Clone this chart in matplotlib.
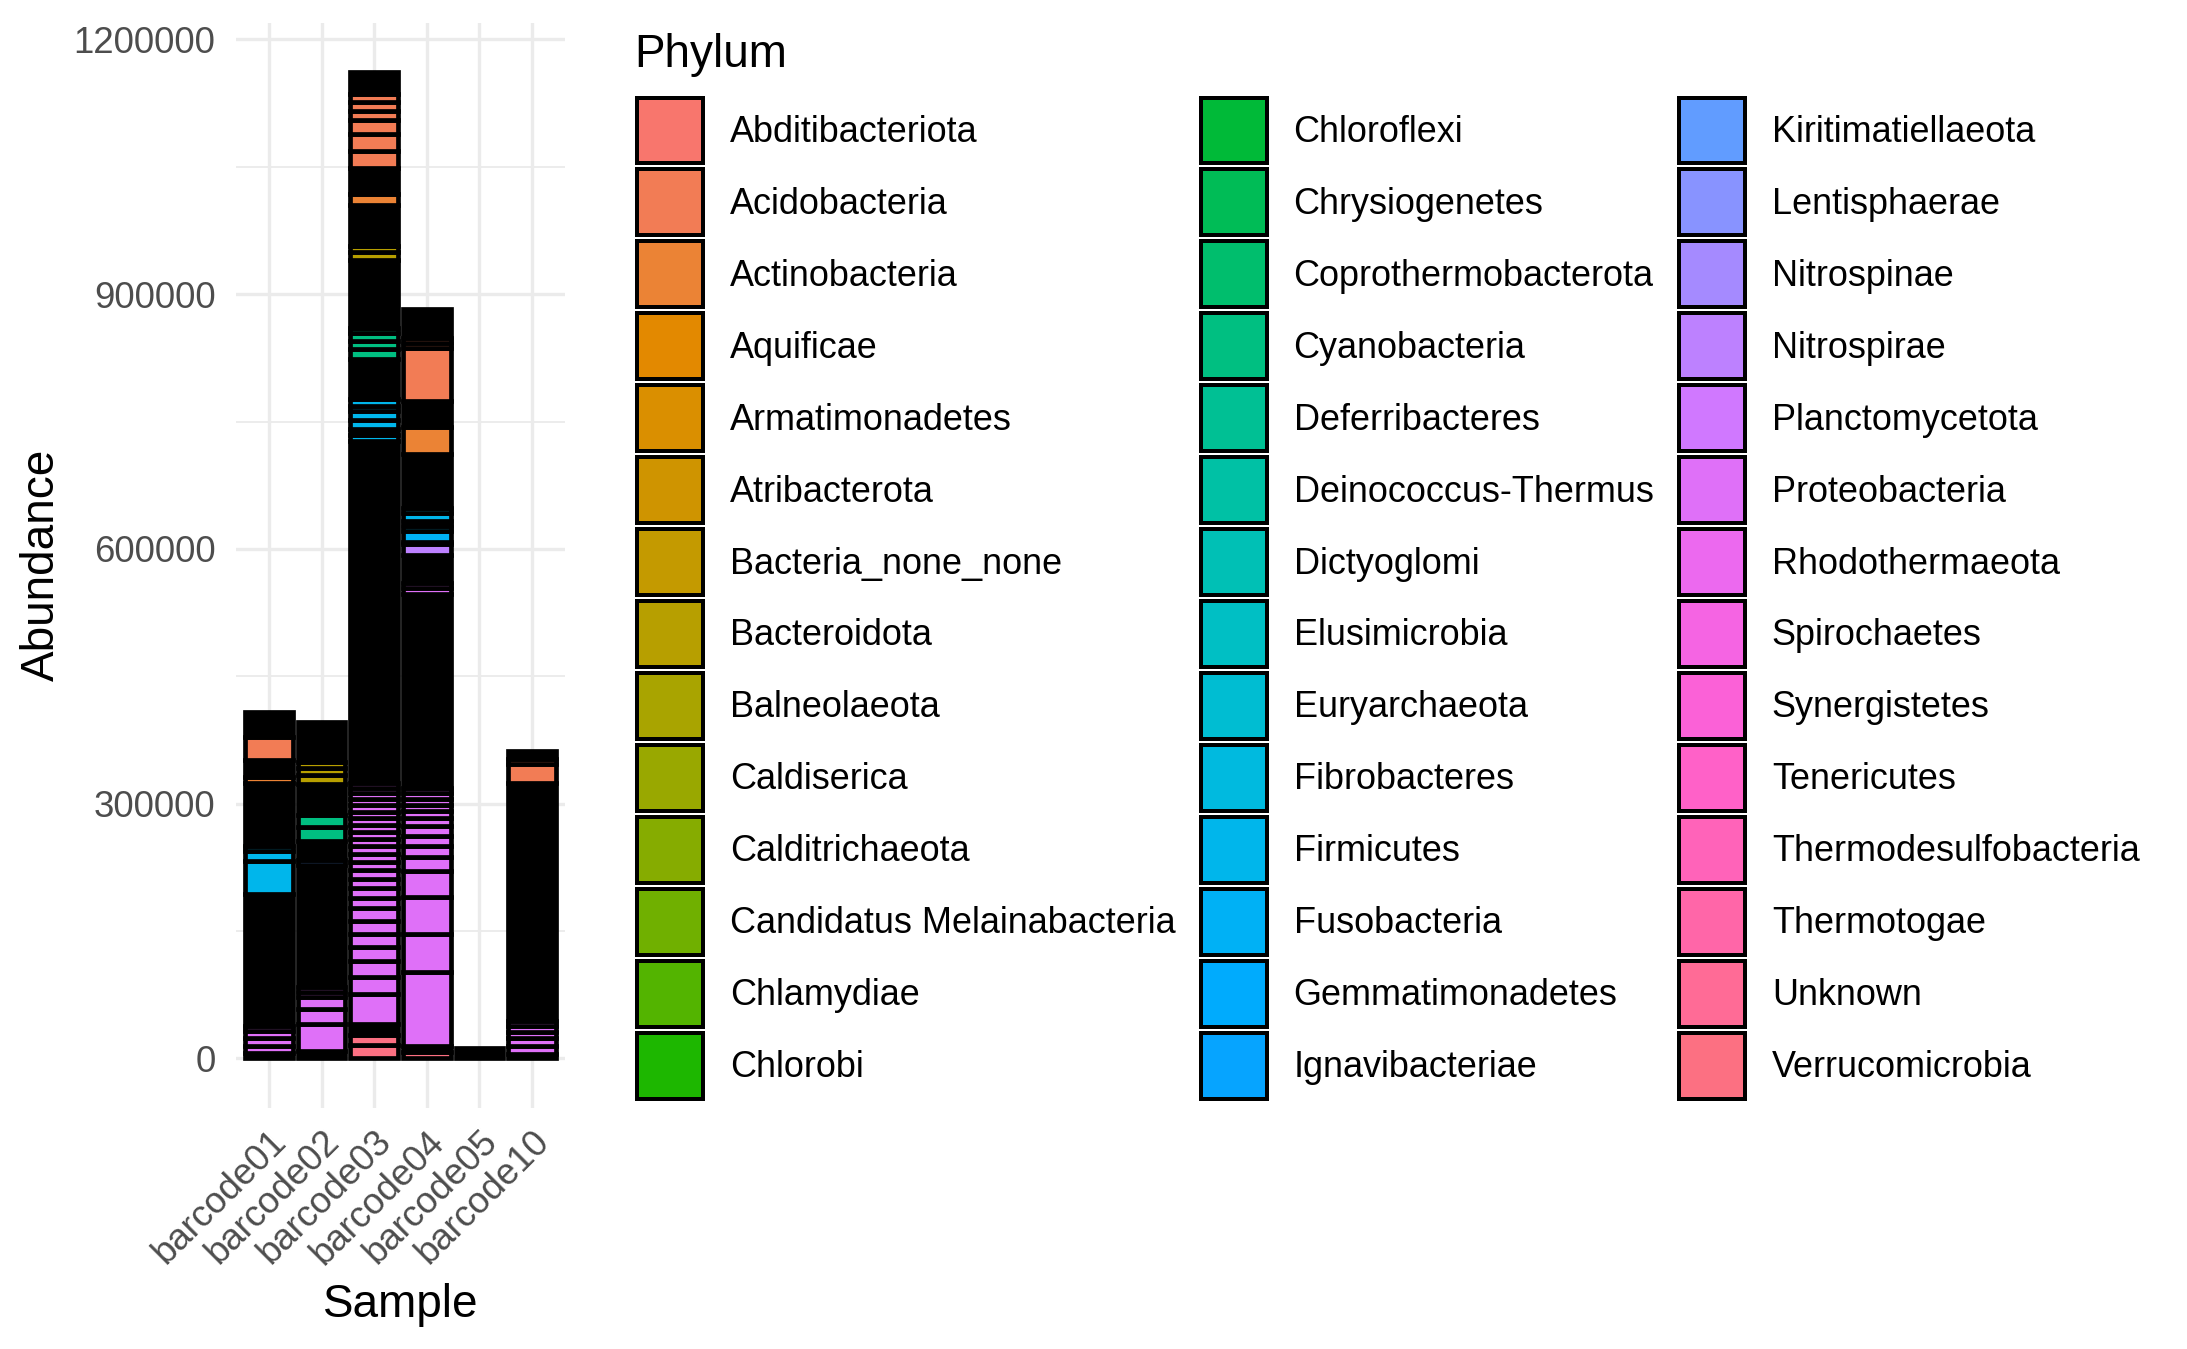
import numpy as np
import matplotlib
matplotlib.use("Agg")
import matplotlib.pyplot as plt
from matplotlib.patches import Patch

plt.rcParams['font.family'] = ['Liberation Sans', 'DejaVu Sans']

phyla = ["Abditibacteriota", "Acidobacteria", "Actinobacteria", "Aquificae", "Armatimonadetes",
         "Atribacterota", "Bacteria_none_none", "Bacteroidota", "Balneolaeota", "Caldiserica",
         "Calditrichaeota", "Candidatus Melainabacteria", "Chlamydiae", "Chlorobi",
         "Chloroflexi", "Chrysiogenetes", "Coprothermobacterota", "Cyanobacteria", "Deferribacteres",
         "Deinococcus-Thermus", "Dictyoglomi", "Elusimicrobia", "Euryarchaeota", "Fibrobacteres",
         "Firmicutes", "Fusobacteria", "Gemmatimonadetes", "Ignavibacteriae",
         "Kiritimatiellaeota", "Lentisphaerae", "Nitrospinae", "Nitrospirae", "Planctomycetota",
         "Proteobacteria", "Rhodothermaeota", "Spirochaetes", "Synergistetes", "Tenericutes",
         "Thermodesulfobacteria", "Thermotogae", "Unknown", "Verrucomicrobia"]

samples = ["barcode01", "barcode02", "barcode03", "barcode04", "barcode05", "barcode10"]

# OTU segments per sample, bottom to top (phylum, abundance)
# None = a run of many tiny OTUs whose black outlines merge into a solid black block
barcode01 = [(None, 6050), ("Proteobacteria", 8900), ("Proteobacteria", 8950), ("Proteobacteria", 8250),
             ("Proteobacteria", 5900), (None, 155400), ("Firmicutes", 39350), ("Firmicutes", 11050),
             ("Firmicutes", 6250), (None, 74200), ("Actinobacteria", 6600), (None, 20200),
             ("Acidobacteria", 27550), (None, 29450)]

barcode02 = [(None, 8400), ("Proteobacteria", 32450), ("Proteobacteria", 17500), ("Proteobacteria", 13850),
             ("Proteobacteria", 6250), ("Proteobacteria", 5800), (None, 143250), ("Kiritimatiellaeota", 6500),
             (None, 21850), ("Cyanobacteria", 15950), ("Cyanobacteria", 14800), (None, 36400),
             ("Bacteroidota", 10050), ("Bacteroidota", 8400), ("Bacteroidota", 7900), (None, 46300)]

barcode03 = [("Verrucomicrobia", 15600), ("Verrucomicrobia", 12100), (None, 12500),
             ("Proteobacteria", 36000), ("Proteobacteria", 19700), ("Proteobacteria", 18200),
             ("Proteobacteria", 16600), ("Proteobacteria", 15300), ("Proteobacteria", 16100),
             ("Proteobacteria", 14300), ("Proteobacteria", 12500), ("Proteobacteria", 11400),
             ("Proteobacteria", 11100), ("Proteobacteria", 10100), ("Proteobacteria", 10000),
             ("Proteobacteria", 9400), ("Proteobacteria", 9000), ("Proteobacteria", 8500),
             ("Proteobacteria", 8250), ("Proteobacteria", 8000), ("Proteobacteria", 7900),
             ("Proteobacteria", 7800), ("Proteobacteria", 7650), ("Proteobacteria", 7550),
             ("Proteobacteria", 7050), ("Proteobacteria", 6250), ("Proteobacteria", 5900),
             (None, 402200), ("Firmicutes", 7500), (None, 6600), ("Firmicutes", 10700),
             ("Firmicutes", 11000), ("Firmicutes", 6100), ("Firmicutes", 7300), (None, 47400),
             ("Cyanobacteria", 11800), ("Cyanobacteria", 9400), ("Cyanobacteria", 9400),
             ("Cyanobacteria", 5900), (None, 79700), ("Bacteroidota", 10250), ("Bacteroidota", 6300),
             (None, 48600), ("Actinobacteria", 13400), (None, 30200), ("Acidobacteria", 20500),
             ("Acidobacteria", 20000), ("Acidobacteria", 16500), ("Acidobacteria", 10600),
             ("Acidobacteria", 10250), ("Acidobacteria", 9000), (None, 25900)]

barcode04 = [("Verrucomicrobia", 7700), (None, 6250), ("Proteobacteria", 88000), ("Proteobacteria", 44600),
             ("Proteobacteria", 43600), ("Proteobacteria", 30400), ("Proteobacteria", 17000),
             ("Proteobacteria", 13000), ("Proteobacteria", 11550), ("Proteobacteria", 11000),
             ("Proteobacteria", 9950), ("Proteobacteria", 7800), ("Proteobacteria", 7650),
             ("Proteobacteria", 7200), ("Proteobacteria", 6600), ("Proteobacteria", 6350),
             (None, 228000), ("Proteobacteria", 7100), ("Proteobacteria", 6500), (None, 32900),
             ("Nitrospirae", 12250), (None, 3050), ("Fusobacteria", 12250), ("Firmicutes", 6400),
             (None, 6100), ("Firmicutes", 8700), ("Firmicutes", 5800), (None, 64300),
             ("Actinobacteria", 31100), (None, 31000), ("Acidobacteria", 62400),
             ("Acidobacteria", 6300), ("Acidobacteria", 5650), (None, 34000)]

barcode05 = [(None, 11600)]

barcode10 = [(None, 4900), ("Proteobacteria", 9700), ("Proteobacteria", 8950), ("Proteobacteria", 7750),
             ("Proteobacteria", 6250), ("Proteobacteria", 6250), (None, 280000),
             ("Acidobacteria", 23200), ("Acidobacteria", 5900), (None, 9350)]

stacks = [barcode01, barcode02, barcode03, barcode04, barcode05, barcode10]


def hcl(h, c=100.0, l=65.0):
    # R's hcl() (polar LUV -> sRGB, D65 white), as used by ggplot's default hue palette
    xn, yn, zn = 95.047, 100.0, 108.883
    un = 4 * xn / (xn + 15 * yn + 3 * zn)
    vn = 9 * yn / (xn + 15 * yn + 3 * zn)
    hr = np.deg2rad(h)
    U, V = c * np.cos(hr), c * np.sin(hr)
    Y = yn * ((l + 16) / 116) ** 3
    u = U / (13 * l) + un
    v = V / (13 * l) + vn
    X = 9.0 * Y * u / (4 * v)
    Z = -X / 3 - 5 * Y + 3 * Y / v
    rgb = np.array([3.240479 * X - 1.537150 * Y - 0.498535 * Z,
                    -0.969256 * X + 1.875992 * Y + 0.041556 * Z,
                    0.055648 * X - 0.204043 * Y + 1.057311 * Z]) / yn
    rgb = np.where(rgb > 0.00304, 1.055 * np.abs(rgb) ** (1 / 2.4) - 0.055, 12.92 * rgb)
    rgb = np.clip(rgb, 0, 1)
    return "#%02X%02X%02X" % tuple(int(255 * x + 0.5) for x in rgb)


colours = {p: hcl(15 + i * 360 / len(phyla)) for i, p in enumerate(phyla)}

W, H = 2187, 1349
fig = plt.figure(figsize=(W / 300, H / 300), dpi=300)
ax = fig.add_axes([236.2 / W, 1 - 1107.5 / H, 328.6 / W, 1084.4 / H])

for i, segs in enumerate(stacks):
    bottom = 0
    for phylum, value in segs:
        fc = "black" if phylum is None else colours[phylum]
        ax.bar(i, value, bottom=bottom, width=0.9, color=fc, edgecolor="black",
               linewidth=1.13, zorder=2)
        bottom += value

ymax = max(sum(v for _, v in s) for s in stacks)
ax.set_ylim(-0.05 * ymax, 1.05 * ymax)
ax.set_xlim(-0.62, len(samples) - 0.38)

yt = [0, 300000, 600000, 900000, 1200000]
ax.set_yticks(yt)
ax.set_yticklabels([str(v) for v in yt])
ax.set_yticks([150000, 450000, 750000, 1050000], minor=True)
ax.set_xticks(range(len(samples)))
ax.set_xticklabels(samples, rotation=45, ha="right", va="top", rotation_mode="anchor")

ax.set_axisbelow(True)
ax.grid(which="major", color="#EBEBEB", linewidth=0.8)
ax.grid(which="minor", axis="y", color="#EBEBEB", linewidth=0.45)
for spine in ax.spines.values():
    spine.set_visible(False)

ax.tick_params(axis="both", which="both", length=0, labelsize=8.8, labelcolor="#4D4D4D")
ax.tick_params(axis="y", pad=4.95)
ax.tick_params(axis="x", pad=4.0)

ax.set_xlabel("Sample", fontsize=11)
ax.xaxis.set_label_coords(0.5, (1107.5 - 1305) / 1084.4)
ax.xaxis.label.set_va("center")
ax.set_ylabel("Abundance", fontsize=11)
ax.yaxis.set_label_coords((42 - 236.2) / 328.6, 0.5)
ax.yaxis.label.set_va("center")

# legend
fig.text(634 / W, 1 - 66.7 / H, "Phylum", fontsize=11, va="baseline", ha="left")
handles = [Patch(facecolor=colours[p], edgecolor="black", linewidth=0.96) for p in phyla]
fig.legend(handles, phyla, ncol=3, loc="upper left",
           bbox_to_anchor=(637 / W, 1 - 97.5 / H), frameon=False, fontsize=8.65,
           handlelength=1.831, handleheight=2.44, labelspacing=0.1665, handletextpad=0.74,
           columnspacing=0.71, borderpad=0, borderaxespad=0)

fig.savefig("out.png", dpi=300)
